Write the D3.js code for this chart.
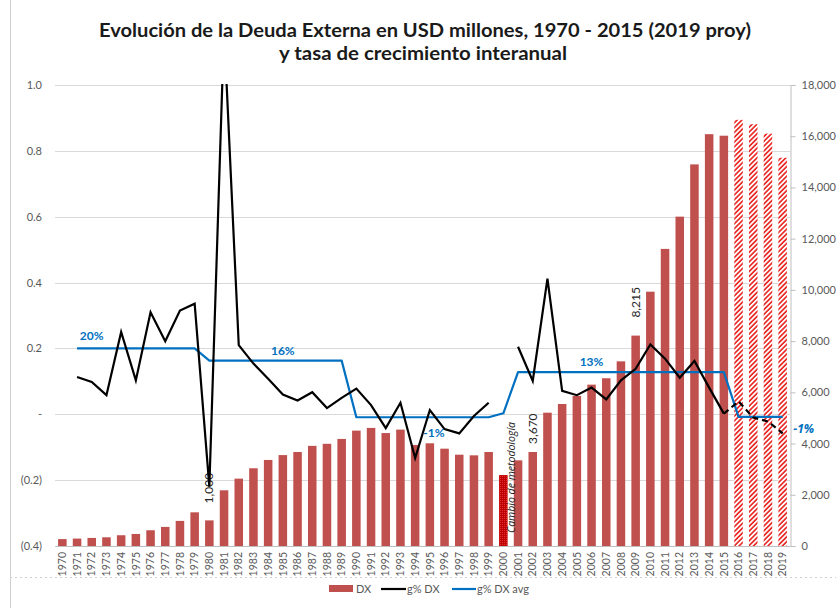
<!DOCTYPE html>
<html>
<head>
<meta charset="utf-8">
<script src="https://cdn.jsdelivr.net/npm/d3@7"></script>
<style>
  html, body { margin: 0; padding: 0; background: #fff; }
  svg { display: block; font-family: Lato, "Open Sans", sans-serif; }
</style>
</head>
<body>
<svg id="chart" width="836" height="608"></svg>
<script>
// ---------- DATA ----------
const years = ["1970","1971","1972","1973","1974","1975","1976","1977","1978","1979",
  "1980","1981","1982","1983","1984","1985","1986","1987","1988","1989",
  "1990","1991","1992","1993","1994","1995","1996","1997","1998","1999",
  "2000","2001","2002","2003","2004","2005","2006","2007","2008","2009",
  "2010","2011","2012","2013","2014","2015","2016","2017","2018","2019"];

// Deuda externa (USD millones)
const dx = [270, 290, 315, 340, 420, 470, 615, 745, 980, 1315,
  1000, 2175, 2630, 3035, 3360, 3550, 3670, 3910, 3990, 4180,
  4505, 4610, 4410, 4545, 3945, 4010, 3800, 3565, 3540, 3670,
  2770, 3345, 3670, 5205, 5545, 5860, 6300, 6550, 7210, 8215,
  9930, 11600, 12860, 14900, 16080, 16020, 16640, 16470, 16100, 15160];

// bar type: n = normal, m = methodology change, p = projection
const dxType = ["n","n","n","n","n","n","n","n","n","n",
  "n","n","n","n","n","n","n","n","n","n",
  "n","n","n","n","n","n","n","n","n","n",
  "m","n","n","n","n","n","n","n","n","n",
  "n","n","n","n","n","n","p","p","p","p"];

// g% DX (tasa de crecimiento interanual), observed
const gdx = [null, 0.113, 0.098, 0.058, 0.25, 0.103, 0.31, 0.222, 0.315, 0.336,
  -0.22, 1.17, 0.21, 0.154, 0.108, 0.06, 0.042, 0.067, 0.019, 0.05,
  0.078, 0.028, -0.042, 0.035, -0.133, 0.013, -0.045, -0.058, -0.005, 0.035,
  null, 0.205, 0.101, 0.412, 0.071, 0.058, 0.081, 0.045, 0.103, 0.138,
  0.212, 0.169, 0.111, 0.162, 0.081, 0.002, null, null, null, null];

// g% DX projected (dashed)
const gdxProjYears = ["2015","2016","2017","2018","2019"];
const gdxProj = [0.002, 0.039, -0.01, -0.022, -0.058];

// g% DX avg (period averages)
const gavg = [null, 0.20, 0.20, 0.20, 0.20, 0.20, 0.20, 0.20, 0.20, 0.20,
  0.163, 0.163, 0.163, 0.163, 0.163, 0.163, 0.163, 0.163, 0.163, 0.163,
  -0.009, -0.009, -0.009, -0.009, -0.009, -0.009, -0.009, -0.009, -0.009, -0.009,
  0.003, 0.128, 0.128, 0.128, 0.128, 0.128, 0.128, 0.128, 0.128, 0.128,
  0.128, 0.128, 0.128, 0.128, 0.128, 0.128, -0.008, -0.008, -0.008, -0.008];

const avgLabelText = ["20%", "16%", "-1%", "13%", "-1%"];
const avgLabelYear = ["1972", "1985", "1995", "2006", "2019"];
const avgLabelValue = [0.20, 0.163, -0.009, 0.128, -0.008];

const dataLabelYears = ["1980", "2002", "2009"];
const dataLabelText = ["1,000", "3,670", "8,215"];

const leftTicks = [1.0, 0.8, 0.6, 0.4, 0.2, 0, -0.2, -0.4];
const leftTickLabels = ["1.0", "0.8", "0.6", "0.4", "0.2", "-", "(0.2)", "(0.4)"];
const rightTicks = [0, 2000, 4000, 6000, 8000, 10000, 12000, 14000, 16000, 18000];

const titleLines = ["Evolución de la Deuda Externa en USD millones, 1970 - 2015 (2019 proy)",
  "y tasa de crecimiento interanual"];
const legendNames = ["DX", "g% DX", "g% DX avg"];
const noteText = "Cambio de metodología";

// ---------- LAYOUT ----------
const plot = { x0: 55, x1: 790, y0: 85, y1: 546 };
const colors = { bar: "#c0504d", barM: "#c00000", hatch: "#e8201c", g: "#000", avg: "#0070c0",
  grid: "#d9d9d9", axis: "#bfbfbf", tick: "#595959" };
const italicFont = "'Open Sans', 'Liberation Sans', sans-serif";

const svg = d3.select("#chart");

const x = d3.scaleBand().domain(years).range([plot.x0, plot.x1]).paddingInner(0.42).paddingOuter(0.21);
const yL = d3.scaleLinear().domain([-0.4, 1.0]).range([plot.y1, plot.y0]);
const yR = d3.scaleLinear().domain([0, 18000]).range([plot.y1, plot.y0]);
const cx = yr => x(yr) + x.bandwidth() / 2;

// defs: patterns and clip
const defs = svg.append("defs");
const hatch = defs.append("pattern").attr("id", "hatch").attr("patternUnits", "userSpaceOnUse")
  .attr("width", 3.4).attr("height", 3.4).attr("patternTransform", "rotate(45)");
hatch.append("rect").attr("width", 3.4).attr("height", 3.4).attr("fill", "#fff");
hatch.append("line").attr("x1", 0.9).attr("y1", 0).attr("x2", 0.9).attr("y2", 3.4)
  .attr("stroke", colors.hatch).attr("stroke-width", 1.6);
const dots = defs.append("pattern").attr("id", "dots").attr("patternUnits", "userSpaceOnUse")
  .attr("width", 2).attr("height", 2);
dots.append("rect").attr("width", 2).attr("height", 2).attr("fill", colors.barM);
dots.append("rect").attr("width", 1).attr("height", 1).attr("fill", "#e03030");
defs.append("clipPath").attr("id", "plotclip").append("rect")
  .attr("x", plot.x0).attr("y", plot.y0 - 1).attr("width", plot.x1 - plot.x0).attr("height", plot.y1 - plot.y0 + 1);

// frame
svg.append("line").attr("x1", 10.5).attr("x2", 10.5).attr("y1", 0).attr("y2", 608)
  .attr("stroke", "#d0d0d0").attr("stroke-width", 1);
svg.append("line").attr("x1", 10).attr("x2", 836).attr("y1", 577.5).attr("y2", 577.5)
  .attr("stroke", "#d0d0d0").attr("stroke-width", 1).attr("stroke-dasharray", "2,3");

// title
svg.append("g").selectAll("text").data(titleLines).join("text")
  .attr("x", (d, i) => i === 0 ? 425 : 423)
  .attr("y", (d, i) => i === 0 ? 37 : 60)
  .attr("text-anchor", "middle")
  .attr("font-size", 19.5).attr("font-weight", "bold").attr("fill", "#1a1a1a")
  .attr("textLength", (d, i) => i === 0 ? 652 : 288).attr("lengthAdjust", "spacingAndGlyphs")
  .text(d => d);

// gridlines
svg.append("g").selectAll("line").data(leftTicks).join("line")
  .attr("x1", plot.x0).attr("x2", plot.x1)
  .attr("y1", d => Math.round(yL(d)) + 0.5).attr("y2", d => Math.round(yL(d)) + 0.5)
  .attr("stroke", colors.grid).attr("stroke-width", 1.2);

// left axis labels
svg.append("g").selectAll("text").data(leftTicks).join("text")
  .attr("x", 42).attr("y", d => yL(d) + 4)
  .attr("text-anchor", "end").attr("font-size", 11).attr("fill", colors.tick)
  .text((d, i) => leftTickLabels[i]);

// right axis
const rAxis = svg.append("g").attr("transform", `translate(${plot.x1 + 0.5},0)`)
  .call(d3.axisRight(yR).tickValues(rightTicks).tickSize(5).tickPadding(6).tickFormat(d3.format(",")));
rAxis.select(".domain").attr("stroke", colors.axis);
rAxis.selectAll(".tick line").attr("stroke", colors.axis);
rAxis.selectAll(".tick text").attr("font-size", 11).attr("fill", colors.tick).attr("font-family", "Lato, sans-serif");

// bottom axis labels
const xAxis = svg.append("g").attr("transform", `translate(0,${plot.y1})`)
  .call(d3.axisBottom(x).tickSize(0).tickPadding(0));
xAxis.select(".domain").attr("stroke", colors.axis);
xAxis.selectAll(".tick text")
  .attr("font-size", 10.5).attr("fill", colors.tick).attr("font-family", "Lato, sans-serif")
  .attr("transform", "rotate(-90)")
  .attr("text-anchor", "end").attr("dy", "0.35em").attr("x", -6).attr("y", 0);

// bars
svg.append("g").selectAll("rect").data(years).join("rect")
  .attr("x", d => x(d))
  .attr("width", x.bandwidth())
  .attr("y", (d, i) => yR(dx[i]))
  .attr("height", (d, i) => yR(0) - yR(dx[i]))
  .attr("fill", (d, i) => dxType[i] === "p" ? "url(#hatch)" : dxType[i] === "m" ? "url(#dots)" : colors.bar);

// methodology note
svg.append("text")
  .attr("transform", `translate(${cx("2000") + 12},${yR(0) - 13}) rotate(-90)`)
  .attr("font-size", 10.5).attr("font-style", "italic").attr("font-family", italicFont).attr("fill", "#262626")
  .text(noteText);

// data labels
const labelGap = { "1980": 17, "2002": 8, "2009": 18 };
svg.append("g").selectAll("text").data(dataLabelYears).join("text")
  .attr("transform", d => `translate(${cx(d) + 4},${yR(dx[years.indexOf(d)]) - labelGap[d]}) rotate(-90)`)
  .attr("font-size", 12).attr("fill", "#262626")
  .text((d, i) => dataLabelText[i]);

// lines
const lines = svg.append("g").attr("clip-path", "url(#plotclip)");
const lineG = d3.line().defined(d => d[1] !== null).x(d => cx(d[0])).y(d => yL(d[1]));
lines.append("path")
  .datum(years.map((yr, i) => [yr, gavg[i]]))
  .attr("d", lineG).attr("fill", "none").attr("stroke", colors.avg).attr("stroke-width", 2.2)
  .attr("stroke-linejoin", "round");
lines.append("path")
  .datum(years.map((yr, i) => [yr, gdx[i]]))
  .attr("d", lineG).attr("fill", "none").attr("stroke", colors.g).attr("stroke-width", 2.2)
  .attr("stroke-linejoin", "miter");
lines.append("path")
  .datum(gdxProjYears.map((yr, i) => [yr, gdxProj[i]]))
  .attr("d", lineG).attr("fill", "none").attr("stroke", colors.g).attr("stroke-width", 2.2)
  .attr("stroke-dasharray", "6,4");

// avg labels
const avgLabelDy = [-8, -6, 20, -6, 16];
const avgLabelDx = [0, 0, 4, 0, 21];
svg.append("g").selectAll("text").data(avgLabelText).join("text")
  .attr("x", (d, i) => cx(avgLabelYear[i]) + avgLabelDx[i])
  .attr("y", (d, i) => yL(avgLabelValue[i]) + avgLabelDy[i])
  .attr("text-anchor", "middle").attr("font-size", 12).attr("font-weight", "bold")
  .attr("font-style", (d, i) => i === 4 ? "italic" : "normal")
  .attr("font-family", (d, i) => i === 4 ? italicFont : null)
  .attr("fill", colors.avg)
  .text(d => d);

// legend
const leg = svg.append("g");
leg.append("rect").attr("x", 329).attr("y", 585).attr("width", 24).attr("height", 7).attr("fill", colors.bar);
leg.append("text").attr("x", 356).attr("y", 593).attr("font-size", 11).attr("fill", colors.tick).text(legendNames[0]);
leg.append("line").attr("x1", 381).attr("x2", 406).attr("y1", 589).attr("y2", 589).attr("stroke", colors.g).attr("stroke-width", 2.2);
leg.append("text").attr("x", 407).attr("y", 593).attr("font-size", 11).attr("fill", colors.tick).text(legendNames[1]);
leg.append("line").attr("x1", 452).attr("x2", 476).attr("y1", 589).attr("y2", 589).attr("stroke", colors.avg).attr("stroke-width", 2.2);
leg.append("text").attr("x", 477).attr("y", 593).attr("font-size", 11).attr("fill", colors.tick).text(legendNames[2]);
</script>
</body>
</html>
